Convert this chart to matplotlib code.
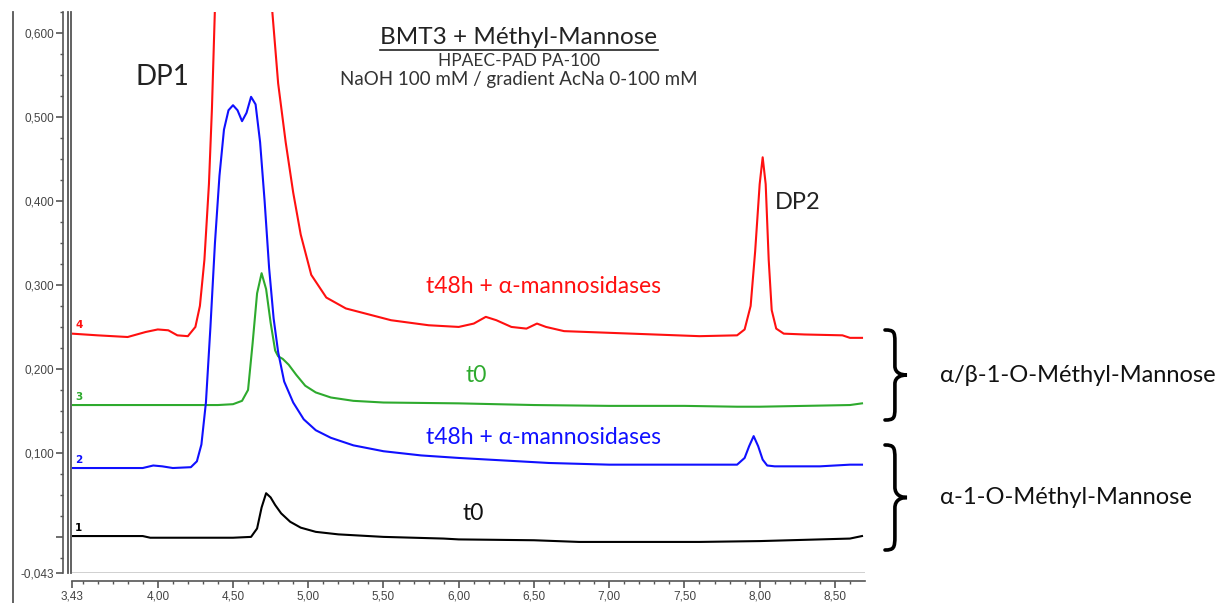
import numpy as np
import matplotlib
matplotlib.use("Agg")
import matplotlib.pyplot as plt
from matplotlib.path import Path
from matplotlib.patches import PathPatch
from matplotlib.lines import Line2D

# ---- data (retention time, signal) ----
red_x = [3.43, 3.60, 3.80, 3.92, 4.00, 4.07, 4.13, 4.20, 4.25, 4.28, 4.31, 4.34, 4.36, 4.38,
         4.45, 4.55, 4.65, 4.71, 4.75, 4.80, 4.85, 4.90, 4.95, 5.02, 5.12, 5.25, 5.40, 5.55,
         5.80, 6.00, 6.10, 6.18, 6.25, 6.35, 6.45, 6.52, 6.58, 6.70, 7.00, 7.30, 7.60, 7.85,
         7.90, 7.94, 7.97, 8.00, 8.02, 8.04, 8.06, 8.08, 8.11, 8.16, 8.30, 8.55, 8.60, 8.68]
red_y = [0.242, 0.240, 0.238, 0.244, 0.247, 0.246, 0.240, 0.239, 0.250, 0.275, 0.330, 0.420,
         0.510, 0.630, 0.760, 0.820, 0.800, 0.730, 0.650, 0.540, 0.470, 0.410, 0.360, 0.312,
         0.285, 0.272, 0.265, 0.258, 0.252, 0.250, 0.254, 0.262, 0.258, 0.250, 0.248, 0.254,
         0.250, 0.245, 0.243, 0.241, 0.239, 0.240, 0.247, 0.275, 0.340, 0.420, 0.452, 0.420,
         0.330, 0.270, 0.248, 0.242, 0.241, 0.240, 0.237, 0.237]

green_x = [3.43, 4.00, 4.40, 4.50, 4.56, 4.60, 4.63, 4.66, 4.69, 4.72, 4.75, 4.78, 4.80, 4.83,
           4.87, 4.92, 4.98, 5.05, 5.15, 5.30, 5.50, 6.00, 6.50, 7.00, 7.50, 7.85, 8.00, 8.30,
           8.60, 8.68]
green_y = [0.157, 0.157, 0.157, 0.158, 0.162, 0.175, 0.230, 0.290, 0.314, 0.295, 0.255, 0.222,
           0.215, 0.212, 0.205, 0.193, 0.180, 0.172, 0.166, 0.162, 0.160, 0.159, 0.157, 0.156,
           0.156, 0.155, 0.155, 0.156, 0.157, 0.159]

blue_x = [3.43, 3.90, 3.97, 4.03, 4.10, 4.22, 4.26, 4.29, 4.32, 4.35, 4.38, 4.41, 4.44, 4.47,
          4.50, 4.53, 4.56, 4.59, 4.62, 4.65, 4.68, 4.71, 4.74, 4.77, 4.80, 4.84, 4.90, 4.97,
          5.05, 5.15, 5.30, 5.50, 5.75, 6.00, 6.30, 6.60, 7.00, 7.40, 7.85, 7.90, 7.93, 7.96,
          7.99, 8.02, 8.05, 8.10, 8.40, 8.60, 8.68]
blue_y = [0.082, 0.082, 0.085, 0.084, 0.082, 0.083, 0.090, 0.110, 0.160, 0.250, 0.350, 0.430,
          0.485, 0.508, 0.514, 0.508, 0.495, 0.505, 0.524, 0.515, 0.470, 0.400, 0.320, 0.260,
          0.220, 0.185, 0.160, 0.140, 0.127, 0.118, 0.109, 0.102, 0.097, 0.094, 0.091, 0.088,
          0.086, 0.086, 0.086, 0.094, 0.108, 0.120, 0.108, 0.092, 0.085, 0.084, 0.084, 0.086,
          0.086]

black_x = [3.43, 3.90, 3.95, 4.50, 4.62, 4.66, 4.69, 4.72, 4.75, 4.78, 4.82, 4.88, 4.95, 5.05,
           5.20, 5.50, 5.90, 6.00, 6.50, 6.80, 7.30, 7.60, 8.00, 8.40, 8.60, 8.68]
black_y = [0.001, 0.001, -0.001, -0.001, 0.000, 0.010, 0.035, 0.052, 0.047, 0.038, 0.028,
           0.018, 0.011, 0.006, 0.003, 0.000, -0.002, -0.003, -0.004, -0.006, -0.006, -0.006,
           -0.005, -0.003, -0.002, 0.001]

x_ticks = [3.43, 4.00, 4.50, 5.00, 5.50, 6.00, 6.50, 7.00, 7.50, 8.00, 8.50]
y_ticks = [-0.043, 0.0, 0.1, 0.2, 0.3, 0.4, 0.5, 0.6]
y_tick_labels = ["-0,043", "", "0,100", "0,200", "0,300", "0,400", "0,500", "0,600"]

W, H = 1222, 603
TXT = ["Lato", "DejaVu Sans"]
AXC = "#555555"
RED, GREEN, BLUE = "#ff1010", "#2eaa2e", "#1010ff"


def fx(px):
    return px / W


def fy(py):
    return 1 - py / H


def brace(fig, x0, ytop, ybot, w, lw=2.6):
    """Right-pointing curly brace, given in pixel coords (y downward)."""
    h = ybot - ytop
    ym = (ytop + ybot) / 2
    xs = x0 + w * 0.45
    pts = [
        (x0, ytop),
        (x0 + w * 0.4, ytop), (xs, ytop + 0.02 * h), (xs, ytop + 0.13 * h),
        (xs, ym - 0.1 * h),
        (xs, ym - 0.02 * h), (x0 + w * 0.75, ym), (x0 + w, ym),
        (x0 + w * 0.75, ym), (xs, ym + 0.02 * h), (xs, ym + 0.1 * h),
        (xs, ybot - 0.13 * h),
        (xs, ybot - 0.02 * h), (x0 + w * 0.4, ybot), (x0, ybot),
    ]
    codes = [Path.MOVETO,
             Path.CURVE4, Path.CURVE4, Path.CURVE4,
             Path.LINETO,
             Path.CURVE4, Path.CURVE4, Path.CURVE4,
             Path.CURVE4, Path.CURVE4, Path.CURVE4,
             Path.LINETO,
             Path.CURVE4, Path.CURVE4, Path.CURVE4]
    verts = [(fx(p[0]), fy(p[1])) for p in pts]
    fig.patches.append(PathPatch(Path(verts, codes), transform=fig.transFigure,
                                 fill=False, lw=lw, color="black", capstyle="round"))


fig = plt.figure(figsize=(W / 100, H / 100), dpi=100)
ax = fig.add_axes([fx(72), fy(573), fx(865) - fx(72), fy(12) - fy(573)])

ax.plot(red_x, red_y, color=RED, lw=1.5)
ax.plot(green_x, green_y, color=GREEN, lw=1.5)
ax.plot(blue_x, blue_y, color=BLUE, lw=1.5)
ax.plot(black_x, black_y, color="black", lw=1.5)

ax.set_xlim(3.43, 8.70)
ax.set_ylim(-0.043, 0.625)

# axes styling, looking like the chromatography software output
for side in ["top", "right"]:
    ax.spines[side].set_visible(False)
ax.spines["left"].set_position(("outward", 6.5))
ax.spines["bottom"].set_position(("outward", 6))
ax.spines["left"].set_color(AXC)
ax.spines["bottom"].set_color(AXC)
ax.spines["left"].set_linewidth(1.2)
ax.spines["bottom"].set_linewidth(1.2)
ax.axhline(-0.043, color="#cccccc", lw=2)

ax.set_xticks(x_ticks)
ax.set_xticklabels([f"{v:.2f}".replace(".", ",") for v in x_ticks])
ax.set_xticks(np.arange(3.5, 8.65, 0.1), minor=True)
ax.set_yticks(y_ticks)
ax.set_yticklabels(y_tick_labels)
ax.set_yticks(np.arange(-0.025, 0.63, 0.025), minor=True)
ax.tick_params(axis="both", which="major", length=5, width=1.2, color=AXC,
               labelsize=8.5, labelcolor="#444444", pad=1.5)
ax.tick_params(axis="both", which="minor", length=2.5, width=1.0, color=AXC)
for lab in ax.get_xticklabels() + ax.get_yticklabels():
    lab.set_family("Liberation Sans")

# frame lines on the left
for px, y0 in [(68, 12), (71, 12), (13, 12)]:
    fig.lines.append(Line2D([fx(px), fx(px)], [fy(y0), fy(603 if px == 13 else 573)],
                            transform=fig.transFigure, color=AXC, lw=1.3))

# trace numbers
for num, yv, col in [("4", 0.252, RED), ("3", 0.167, GREEN),
                     ("2", 0.091, BLUE), ("1", 0.011, "black")]:
    ax.text(3.45, yv, num, color=col, fontsize=7.5, fontweight="bold",
            family="DejaVu Sans", va="center", ha="left")

# annotations
ax.text(4.03, 0.548, "DP1", fontsize=20, family=TXT, color="#222222", ha="center", va="center")
ax.text(8.25, 0.398, "DP2", fontsize=17, family=TXT, color="#222222", ha="center", va="center")

ttl = fig.text(fx(519), fy(37), "BMT3 + Méthyl-Mannose", fontsize=17.5, family=TXT,
               color="#222222", ha="center", va="center")
fig.text(fx(519), fy(61), "HPAEC-PAD PA-100", fontsize=12.5, family=TXT,
         color="#333333", ha="center", va="center")
fig.text(fx(519), fy(80), "NaOH 100 mM / gradient AcNa 0-100 mM", fontsize=13.5, family=TXT,
         color="#333333", ha="center", va="center")

fig.text(fx(543), fy(287), "t48h + α-mannosidases", fontsize=16.5, family=TXT,
         color=RED, ha="center", va="center")
fig.text(fx(476), fy(375), "t0", fontsize=16.5, family=TXT, color=GREEN, ha="center", va="center")
fig.text(fx(543), fy(438), "t48h + α-mannosidases", fontsize=16.5, family=TXT,
         color=BLUE, ha="center", va="center")
fig.text(fx(473), fy(513), "t0", fontsize=16.5, family=TXT, color="#111111", ha="center", va="center")

brace(fig, 885, 330, 420, 22)
brace(fig, 885, 445, 550, 22)
fig.text(fx(940), fy(376), "α/β-1-O-Méthyl-Mannose", fontsize=17, family=TXT,
         color="#111111", ha="left", va="center")
fig.text(fx(940), fy(497), "α-1-O-Méthyl-Mannose", fontsize=17, family=TXT,
         color="#111111", ha="left", va="center")

# underline the title
fig.canvas.draw()
bb = ttl.get_window_extent()
fig.lines.append(Line2D([bb.x0 / W, bb.x1 / W], [fy(50), fy(50)],
                        transform=fig.transFigure, color="#222222", lw=1.2))

fig.savefig("out.png", dpi=100)
